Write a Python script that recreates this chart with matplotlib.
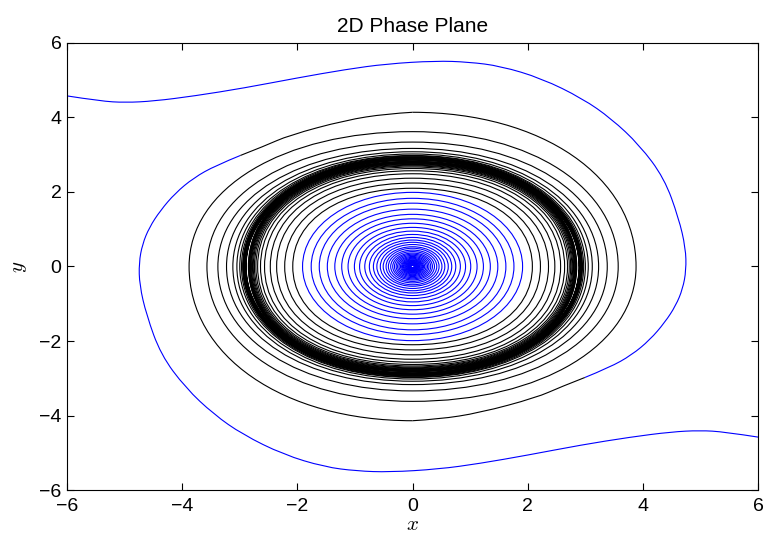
import numpy as np
import matplotlib
matplotlib.use("Agg")
import matplotlib.pyplot as plt
from matplotlib.path import Path
from matplotlib.patches import PathPatch
from matplotlib.transforms import Affine2D

plt.rcParams['font.family'] = ['Liberation Sans', 'DejaVu Sans']
plt.rcParams['mathtext.fontset'] = 'cm'

# outer trajectory starting at (-6, 4.6), blue part
outer_blue_x = [-6.0, -5.42, -4.99, -4.49, -3.78, -2.93, -2.01, -1.16, -0.45, 0.40, 0.97, 1.53,
                2.24, 2.95, 3.45, 3.94, 4.37, 4.62, 4.74, 4.75, 4.69, 4.57, 4.38, 4.12, 3.80, 3.42, 2.99]
outer_blue_y = [4.58, 4.44, 4.40, 4.44, 4.58, 4.79, 5.06, 5.29, 5.44, 5.52, 5.49, 5.38,
                5.05, 4.51, 3.97, 3.26, 2.37, 1.30, 0.50, -0.10, -0.60, -1.05, -1.50, -1.97, -2.38, -2.71, -2.98]

# same trajectory, first black stretch down to the bottom axis crossing
outer_lead_x = [2.99, 2.56, 2.15, 1.16, 0.45, 0.0]
outer_lead_y = [-2.98, -3.24, -3.52, -3.93, -4.10, -4.14]

# then axis crossings every quarter turn (bottom, left, top, right, ...)
outer_cross = [4.14, 3.88, 3.62, 3.57, 3.34, 3.38, 3.17, 3.23, 3.08, 3.12, 3.02, 3.05,
               2.98, 3.00, 2.965, 2.97, 2.945, 2.95, 2.93, 2.94, 2.915, 2.93, 2.905, 2.92,
               2.895, 2.915, 2.89, 2.91, 2.885, 2.905, 2.88, 2.90, 2.875, 2.90, 2.87, 2.895,
               2.865, 2.895, 2.862, 2.89, 2.86, 2.89]

# inner spiral turns (top crossing, right crossing), blue part
inner_blue_top = [1.99, 1.83, 1.70, 1.54, 1.40, 1.28, 1.16, 1.05, 0.95, 0.86, 0.78, 0.71,
                  0.65, 0.59, 0.53, 0.49, 0.44, 0.40, 0.36, 0.33, 0.30, 0.27, 0.245, 0.22,
                  0.20, 0.18, 0.165, 0.15, 0.135, 0.12, 0.11, 0.10, 0.09, 0.08, 0.072, 0.065,
                  0.058, 0.052, 0.047, 0.042, 0.038, 0.034, 0.03]
inner_blue_right = [1.91, 1.76, 1.62, 1.48, 1.35, 1.23, 1.12, 1.01, 0.92, 0.83, 0.75, 0.68,
                    0.62, 0.56, 0.51, 0.46, 0.42, 0.38, 0.345, 0.315, 0.285, 0.26, 0.235, 0.21,
                    0.19, 0.175, 0.16, 0.145, 0.13, 0.12, 0.105, 0.095, 0.085, 0.077, 0.07, 0.063,
                    0.057, 0.051, 0.046, 0.041, 0.037, 0.033, 0.03]

# inner spiral turns, black part approaching the limit cycle
inner_black_top = [2.10, 2.24, 2.37, 2.49, 2.57, 2.63, 2.67, 2.70, 2.72, 2.74, 2.755, 2.77,
                   2.78, 2.79, 2.80, 2.805, 2.81, 2.815, 2.82, 2.825]
inner_black_right = [2.08, 2.22, 2.36, 2.47, 2.57, 2.64, 2.69, 2.72, 2.745, 2.765, 2.78, 2.795,
                     2.805, 2.815, 2.825, 2.83, 2.835, 2.84, 2.845, 2.85]


def quarter_path(cross, start, k):
    # cubic bezier quarter arcs between successive axis crossings, clockwise
    dirs = np.array([[0, 1], [1, 0], [0, -1], [-1, 0]], dtype=float)
    pts = [dirs[(start + i) % 4] * c for i, c in enumerate(cross)]
    verts = [pts[0]]
    codes = [Path.MOVETO]
    for p0, p1 in zip(pts[:-1], pts[1:]):
        verts += [p0 + k * p1, p1 + k * p0, p1]
        codes += [Path.CURVE4] * 3
    return Path(verts, codes)


def smooth_path(xs, ys):
    pts = np.column_stack([xs, ys])
    verts = [pts[0]]
    codes = [Path.MOVETO]
    for i in range(1, len(pts) - 1):
        end = (pts[i] + pts[i + 1]) / 2 if i < len(pts) - 2 else pts[i + 1]
        verts += [pts[i], end]
        codes += [Path.CURVE3] * 2
    return Path(verts, codes)


fig = plt.figure(figsize=(7.68, 5.36), dpi=100)
ax = fig.add_axes([0.0872, 0.0858, 0.900, 0.834])

lw = 0.8
# second trajectory is the point reflection of the first one
flip = Affine2D().rotate_deg(180) + ax.transData

for tr in [ax.transData, flip]:
    ax.add_patch(PathPatch(smooth_path(outer_blue_x, outer_blue_y), fill=False,
                           edgecolor='b', lw=lw, transform=tr))
    ax.add_patch(PathPatch(smooth_path(outer_lead_x, outer_lead_y), fill=False,
                           edgecolor='k', lw=lw, transform=tr))
    ax.add_patch(PathPatch(quarter_path(outer_cross, 2, 0.58), fill=False,
                           edgecolor='k', lw=lw, transform=tr))

for t, r in zip(inner_black_top, inner_black_right):
    ax.add_patch(PathPatch(quarter_path([t, r, t, r, t], 0, 0.6), fill=False,
                           edgecolor='k', lw=lw))

for t, r in zip(inner_blue_top, inner_blue_right):
    ax.add_patch(PathPatch(quarter_path([t, r, t, r, t], 0, 0.56), fill=False,
                           edgecolor='b', lw=lw))

ax.set_xlim(-6, 6)
ax.set_ylim(-6, 6)
ax.set_xticks(range(-6, 7, 2))
ax.set_yticks(range(-6, 7, 2))
ax.tick_params(direction='in', top=True, right=True, length=5, labelsize=14)
ax.tick_params(axis='x', pad=6)
ax.tick_params(axis='y', pad=4)
ax.set_title('2D Phase Plane', fontsize=15, pad=8)
ax.set_xlabel('$x$', fontsize=15, labelpad=0)
ax.set_ylabel('$y$', fontsize=15, labelpad=7)

plt.savefig('out.png', dpi=100)
